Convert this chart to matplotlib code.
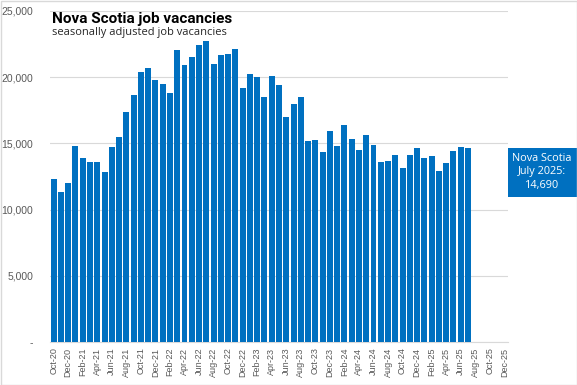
import matplotlib
matplotlib.use("Agg")
import matplotlib.pyplot as plt
from matplotlib.patches import Rectangle

n_axis = 63  # Oct-20 .. Dec-25
month_names = ["Jan", "Feb", "Mar", "Apr", "May", "Jun", "Jul", "Aug", "Sep", "Oct", "Nov", "Dec"]
categories = []
for i in range(n_axis):
    m = (9 + i) % 12
    y = 20 + (9 + i) // 12
    categories.append(month_names[m] + "-" + str(y))

vacancies = [12300, 11320, 12000, 14790, 13880, 13580, 13580, 12830, 14710, 15460,
             17350, 18630, 20370, 20670, 19760, 19460, 18780, 22020, 20890, 21490,
             22400, 22700, 20970, 21640, 21720, 22100, 19160, 20220, 19990, 18470,
             20060, 19380, 16970, 17950, 18470, 15160, 15240, 14330, 15920, 14790,
             16370, 15310, 14480, 15610, 14860, 13580, 13650, 14110, 13130, 14110,
             14630, 13880, 14030, 12900, 13500, 14410, 14710, 14690]

yticks = [0, 5000, 10000, 15000, 20000, 25000]
ytick_labels = ["-", "5,000", "10,000", "15,000", "20,000", "25,000"]
annotation = "Nova Scotia\nJuly 2025:\n14,690"

fig = plt.figure(figsize=(5.77, 3.85), dpi=100)
ax = fig.add_axes([50/577, 1-342/385, 458/577, 331/385])

blue = "#0070C0"
ax.bar(range(len(vacancies)), vacancies, width=0.82, color=blue, zorder=3)
ax.set_xlim(-0.5, n_axis - 0.5)
ax.set_ylim(0, 25000)
ax.set_yticks(yticks)
ax.set_yticklabels(ytick_labels, fontsize=7.5, color="#595959", family="Liberation Sans")
ax.set_xticks(range(0, n_axis, 2))
ax.set_xticklabels(categories[::2], rotation=90, fontsize=6.5, color="#595959", family="Liberation Sans")
ax.tick_params(length=0, pad=4)
ax.tick_params(axis="y", pad=12)
ax.grid(axis="y", color="#D9D9D9", lw=0.8, zorder=0)
for s in ["top", "right", "left"]:
    ax.spines[s].set_visible(False)
ax.spines["bottom"].set_color("#D9D9D9")
ax.spines["bottom"].set_linewidth(0.8)

fig.text(52/577, 1-23/385, "Nova Scotia job vacancies", fontsize=11, fontweight="bold",
         family="Roboto", color="black", va="baseline", ha="left")
fig.text(52/577, 1-35/385, "seasonally adjusted job vacancies", fontsize=8,
         family="Open Sans", color="#262626", va="baseline", ha="left")

# annotation box
fig.patches.append(Rectangle((508/577, 1-197/385), 69/577, 49/385, transform=fig.transFigure,
                             facecolor=blue, edgecolor="none"))
fig.text(542/577, 1-172/385, annotation, fontsize=7.8, color="white", ha="center", va="center",
         family="Open Sans", linespacing=1.3)

# chart border
fig.patches.append(Rectangle((0.5/577, 0.5/385), 576/577, 384/385, transform=fig.transFigure,
                             facecolor="none", edgecolor="#D9D9D9", lw=1))

fig.savefig("out.png", dpi=100)
